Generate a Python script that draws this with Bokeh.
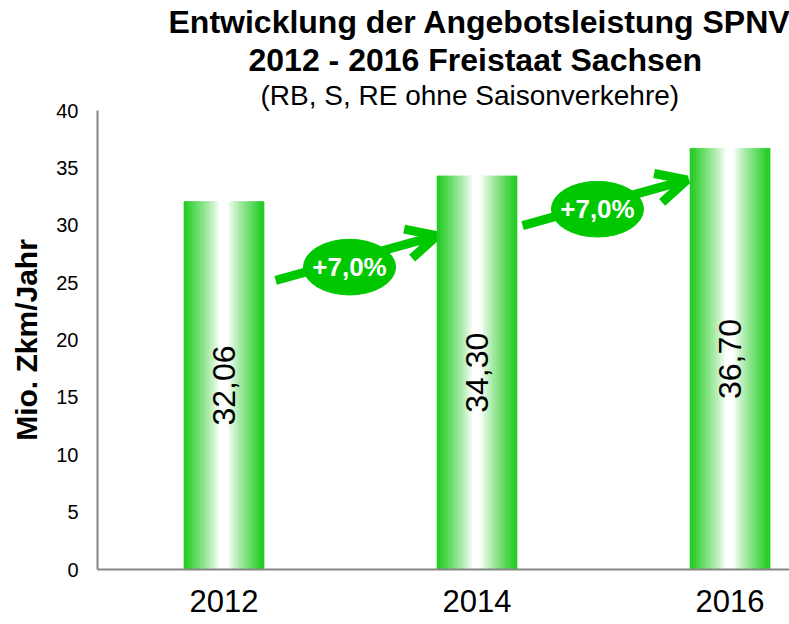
import math
from bokeh.plotting import figure
from bokeh.models import (ColumnDataSource, FixedTicker, Title, Arrow, OpenHead,
                          Range1d)
from bokeh.core.properties import value
from bokeh.embed import file_html
from bokeh.resources import INLINE

# ---- data ----
years = ["2012", "2014", "2016"]
values = [32.06, 34.30, 36.70]
growth_labels = ["+7,0%", "+7,0%"]
y_ticks = [0, 5, 10, 15, 20, 25, 30, 35, 40]
title_lines = ["Entwicklung der Angebotsleistung SPNV",
               "2012 - 2016 Freistaat Sachsen",
               "(RB, S, RE ohne Saisonverkehre)"]
y_label = "Mio. Zkm/Jahr"

FONT = "Liberation Sans"
GREEN = (34, 204, 34)
DARK_GREEN = "#00c800"
AXIS_GRAY = "#868686"

p = figure(frame_width=692, frame_height=459, output_backend="svg",
           toolbar_location=None, x_range=Range1d(-0.5, 2.235),
           y_range=Range1d(0, 40), min_border_left=97, min_border_top=110,
           min_border_right=0, min_border_bottom=52)
p.outline_line_color = None
p.xgrid.visible = False
p.ygrid.visible = False
p.background_fill_color = "white"
p.border_fill_color = "white"

# ---- gradient bars built from thin strips ----
bar_w = 0.316
N = 48
xs, tops, cols = [], [], []
for i, v in enumerate(values):
    for k in range(N):
        u = (k + 0.5) / N
        d = abs(u - 0.5)
        t = min(max((d - 0.05) / 0.43, 0.0), 1.0) ** 0.85
        r = round(255 * (1 - t) + GREEN[0] * t)
        g = round(255 * (1 - t) + GREEN[1] * t)
        b = round(255 * (1 - t) + GREEN[2] * t)
        xs.append(i - bar_w / 2 + (k + 0.5) * bar_w / N)
        tops.append(v)
        cols.append("#%02x%02x%02x" % (r, g, b))
strip_src = ColumnDataSource(dict(x=xs, top=tops, color=cols))
p.vbar(x="x", top="top", bottom=0, width=bar_w / N * 1.05, fill_color="color",
       line_color="color", line_width=0.6, source=strip_src)

# ---- value labels inside bars ----
val_src = ColumnDataSource(dict(
    x=list(range(len(values))),
    y=[v / 2 for v in values],
    t=[("%.2f" % v).replace(".", ",") for v in values]))
p.text(x="x", y="y", text="t", source=val_src, angle=math.pi / 2,
       text_align="center", text_baseline="middle",
       text_font=value(FONT), text_font_size="32px", text_color="black")

# ---- growth arrows with ellipse badges ----
arrows = [((0.204, 25.2), (0.842, 29.1)), ((1.180, 29.97), (1.830, 33.95))]
badges = [(0.496, 26.35), (1.476, 31.4)]
for (s, e) in arrows:
    p.add_layout(Arrow(x_start=s[0], y_start=s[1], x_end=e[0], y_end=e[1],
                       line_color=DARK_GREEN, line_width=9, level="underlay",
                       end=OpenHead(size=30, line_color=DARK_GREEN, line_width=9)))
bsrc = ColumnDataSource(dict(x=[b[0] for b in badges], y=[b[1] for b in badges],
                             t=growth_labels))
p.ellipse(x="x", y="y", width=0.364, height=4.85, source=bsrc,
          fill_color=DARK_GREEN, line_color=DARK_GREEN)
p.text(x="x", y="y", text="t", source=bsrc, text_align="center",
       text_baseline="middle", text_font=value(FONT), text_font_size="26px",
       text_font_style="bold", text_color="white")

# ---- axes ----
p.xaxis.ticker = FixedTicker(ticks=list(range(len(years))))
p.xaxis.major_label_overrides = {i: y for i, y in enumerate(years)}
p.xaxis.major_label_text_font = FONT
p.xaxis.major_label_text_font_size = "31px"
p.xaxis.major_label_text_color = "black"
p.xaxis.major_label_standoff = 14
p.xaxis.major_tick_line_color = None
p.xaxis.minor_tick_line_color = None
p.xaxis.axis_line_color = AXIS_GRAY
p.xaxis.axis_line_width = 2

p.yaxis.ticker = FixedTicker(ticks=y_ticks)
p.yaxis.major_label_text_font = FONT
p.yaxis.major_label_text_font_size = "20px"
p.yaxis.major_label_text_color = "black"
p.yaxis.major_label_standoff = 13
p.yaxis.major_tick_line_color = None
p.yaxis.minor_tick_line_color = None
p.yaxis.axis_line_color = AXIS_GRAY
p.yaxis.axis_line_width = 2
p.yaxis.axis_label = y_label
p.yaxis.axis_label_text_font = FONT
p.yaxis.axis_label_text_font_size = "30px"
p.yaxis.axis_label_text_font_style = "bold"
p.yaxis.axis_label_text_color = "black"
p.yaxis.axis_label_standoff = 10

# ---- title lines (stacked above the frame, innermost first) ----
title_styles = ["bold", "bold", "normal"]
title_sizes = ["32px", "32px", "28px"]
title_offsets = [71, 151, 163]
for txt, st, sz, off in reversed(list(zip(title_lines, title_styles,
                                          title_sizes, title_offsets))):
    p.add_layout(Title(text=txt, align="left", offset=off, standoff=0,
                       text_font=FONT, text_font_size=sz, text_font_style=st,
                       text_color="black"), "above")

open("out.html", "w").write(file_html(p, INLINE))
